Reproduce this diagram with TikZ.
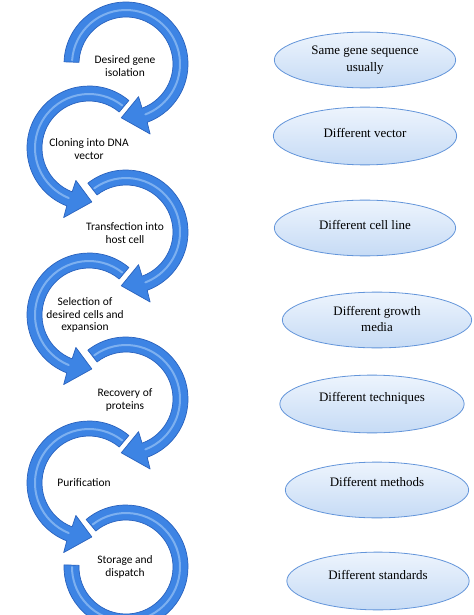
\documentclass[tikz,border=0pt]{standalone}
\usepackage{fontspec}
\setmainfont{Liberation Serif}
\newfontfamily\stepfont{Carlito}
\usetikzlibrary{shapes.geometric}
\definecolor{arrowblue}{HTML}{3D84E4}
\definecolor{arrowedge}{HTML}{2A62BE}
\definecolor{arrowhi}{HTML}{A8CEF8}
\definecolor{ovalline}{HTML}{6395DA}
\definecolor{ovaltop}{HTML}{EDF4FD}
\definecolor{ovalbot}{HTML}{C6DBF5}
\tikzset{
  arrowbody/.style={fill=arrowblue, draw=arrowedge, line width=0.7bp, line join=round},
  arrowshine/.style={draw=arrowhi, line width=2bp, opacity=0.6, line cap=round},
  steptext/.style={font=\stepfont\fontsize{11.5}{12.5}\selectfont, align=center, text=black, inner sep=0pt},
  oval/.style={ellipse, draw=ovalline, line width=0.8bp, top color=ovaltop, bottom color=ovalbot, inner sep=0pt},
  ovaltext/.style={font=\fontsize{13}{17}\selectfont, align=center, inner sep=0pt},
}
% clockwise arrow (right column): #1,#2 centre, #3 tail angle
\newcommand\cwarrow[3]{%
\begin{scope}[shift={(#1,#2)}]
\path[arrowbody] (#3:62) arc[start angle=#3, end angle=-70, radius=62] -- (-71:74) -- (-95:54) -- (-69:35) -- (-70:47) arc[start angle=-70, end angle=#3, radius=47] -- cycle;
\draw[arrowshine] (#3-2:54) arc[start angle=#3-2, end angle=-69, radius=54];
\end{scope}}
% counter-clockwise arrow (left column)
\newcommand\ccwarrow[3]{%
\begin{scope}[shift={(#1,#2)}]
\path[arrowbody] (#3:62) arc[start angle=#3, end angle=249, radius=62] -- (250:74) -- (273:54) -- (248:35) -- (249:47) arc[start angle=249, end angle=#3, radius=47] -- cycle;
\draw[arrowshine] (#3+2:54) arc[start angle=#3+2, end angle=248, radius=54];
\end{scope}}
\begin{document}
\begin{tikzpicture}[x=1bp, y=1bp]
\useasboundingbox (0,0) rectangle (474,-615);
\fill[white] (0,0) rectangle (474,-615);
\begin{scope}
\clip (0,0) rectangle (474,-615);
\cwarrow{126}{-64}{178}
\ccwarrow{89}{-148}{50}
\cwarrow{126}{-232}{128}
\ccwarrow{89}{-315}{50}
\cwarrow{126}{-399}{128}
\ccwarrow{89}{-483}{50}
\begin{scope}[shift={(126,-567)}]
\path[arrowbody] (130:62) arc[start angle=130, end angle=-182, radius=62] -- (-182:47) arc[start angle=-182, end angle=130, radius=47] -- cycle;
\draw[arrowshine] (128:54) arc[start angle=128, end angle=-180, radius=54];
\end{scope}
\end{scope}

\node[steptext] (s1) at (125,-66) {Desired gene\\isolation};
\node[steptext] (s2) at (89,-149) {Cloning into DNA\\vector};
\node[steptext] (s3) at (125,-233) {Transfection into\\host cell};
\node[steptext] (s4) at (85,-315) {Selection of\\desired cells and\\expansion};
\node[steptext] (s5) at (125,-400) {Recovery of\\proteins};
\node[steptext] (s6) at (84,-483) {Purification};
\node[steptext] (s7) at (125,-567) {Storage and\\dispatch};

\node[oval, minimum width=182, minimum height=56] (e1) at (365,-60) {};
\node[ovaltext] (t1) at (e1.center) {Same gene sequence\\usually};
\node[oval, minimum width=184, minimum height=58] (e2) at (365,-136) {};
\node[ovaltext] (t2) at ([yshift=3]e2.center) {Different vector};
\node[oval, minimum width=182, minimum height=56] (e3) at (365,-228) {};
\node[ovaltext] (t3) at ([yshift=3]e3.center) {Different cell line};
\node[oval, minimum width=190, minimum height=56] (e4) at (377,-320) {};
\node[ovaltext] (t4) at ([yshift=1]e4.center) {Different growth\\media};
\node[oval, minimum width=185, minimum height=58] (e5) at (372,-404) {};
\node[ovaltext] (t5) at ([yshift=6]e5.center) {Different techniques};
\node[oval, minimum width=184, minimum height=56] (e6) at (377,-490) {};
\node[ovaltext] (t6) at ([yshift=8]e6.center) {Different methods};
\node[oval, minimum width=183, minimum height=58] (e7) at (378,-581) {};
\node[ovaltext] (t7) at ([yshift=6]e7.center) {Different standards};
\end{tikzpicture}
\end{document}
